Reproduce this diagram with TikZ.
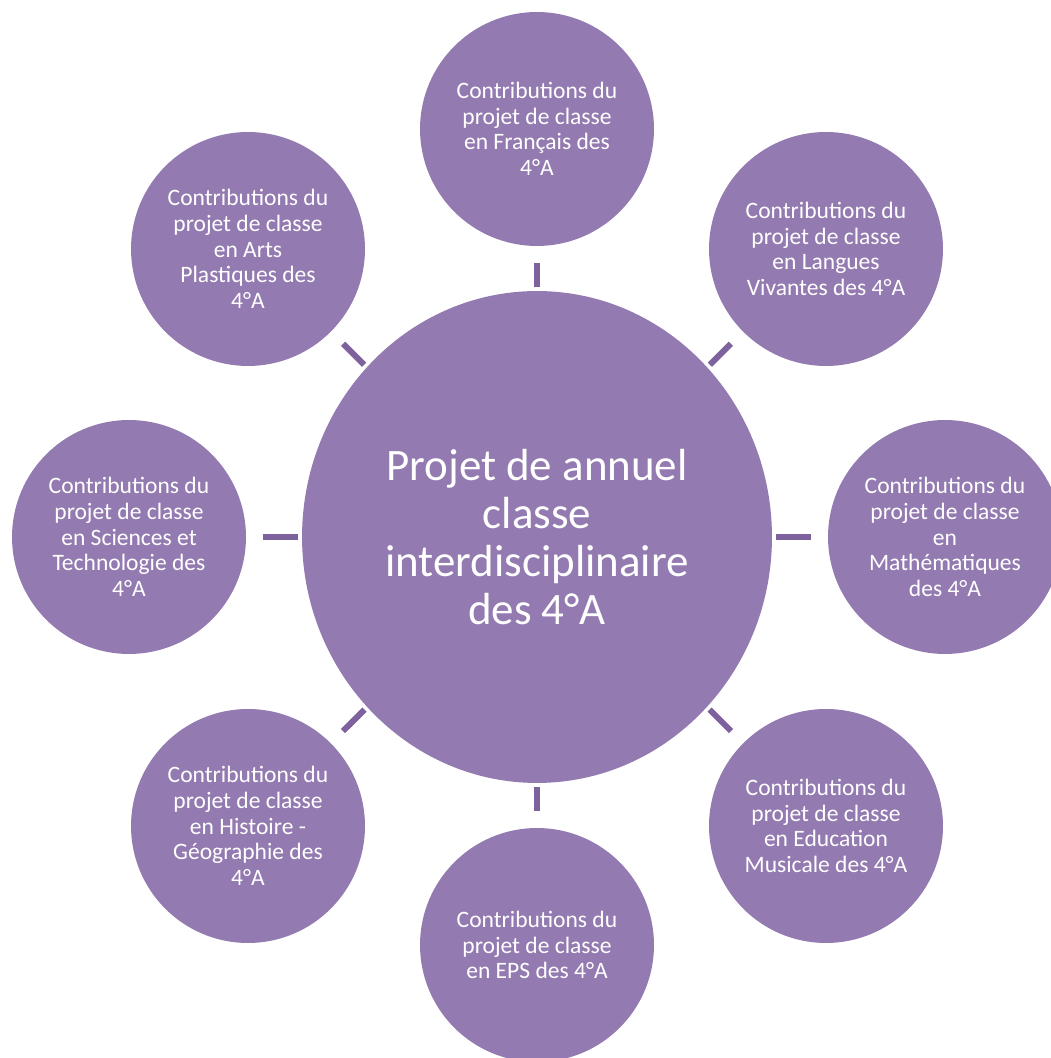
\documentclass[tikz,border=0pt]{standalone}
\usepackage{fontspec}
\setmainfont{Carlito}
\usetikzlibrary{shapes.geometric}
\definecolor{lilas}{RGB}{147,122,176}
\definecolor{lilasfonce}{RGB}{126,98,158}

\begin{document}
\begin{tikzpicture}[x=0.02cm, y=0.02cm,
    matiere/.style={circle, fill=lilas, text=white, minimum size=4.68cm,
        inner sep=0pt, align=center, font=\fontsize{13.4}{14.6}\selectfont},
    projet/.style={ellipse, fill=lilas, text=white, minimum width=9.4cm,
        minimum height=9.84cm, inner sep=0pt, align=center,
        font=\fontsize{25.6}{27.3}\selectfont},
    lien/.style={lilasfonce, line width=0.12cm, shorten <=0.07cm, shorten >=0.34cm}]
    \useasboundingbox (0,0) rectangle (1051,1058);

    % centre
    \node[projet] (projet) at (537,521)
        {Projet de annuel\\ classe\\ interdisciplinaire\\ des 4°A};

    % les matieres autour
    \node[matiere] (francais) at (537,929)
        {Contributions du\\ projet de classe\\ en Français des\\ 4°A};
    \node[matiere] (langues) at (826,809)
        {Contributions du\\ projet de classe\\ en Langues\\ Vivantes des 4°A};
    \node[matiere] (maths) at (945,521)
        {Contributions du\\ projet de classe\\ en\\ Mathématiques\\ des 4°A};
    \node[matiere] (musique) at (826,232)
        {Contributions du\\ projet de classe\\ en Education\\ Musicale des 4°A};
    \node[matiere] (eps) at (537,113)
        {Contributions du\\ projet de classe\\ en EPS des 4°A};
    \node[matiere] (histgeo) at (248,232)
        {Contributions du\\ projet de classe\\ en Histoire -\\ Géographie des\\ 4°A};
    \node[matiere] (sciences) at (129,521)
        {Contributions du\\ projet de classe\\ en Sciences et\\ Technologie des\\ 4°A};
    \node[matiere] (arts) at (248,809)
        {Contributions du\\ projet de classe\\ en Arts\\ Plastiques des\\ 4°A};

    % traits
    \draw[lien] (projet) -- (francais);
    \draw[lien] (projet) -- (langues);
    \draw[lien] (projet) -- (maths);
    \draw[lien] (projet) -- (musique);
    \draw[lien] (projet) -- (eps);
    \draw[lien] (projet) -- (histgeo);
    \draw[lien] (projet) -- (sciences);
    \draw[lien] (projet) -- (arts);
\end{tikzpicture}
\end{document}
